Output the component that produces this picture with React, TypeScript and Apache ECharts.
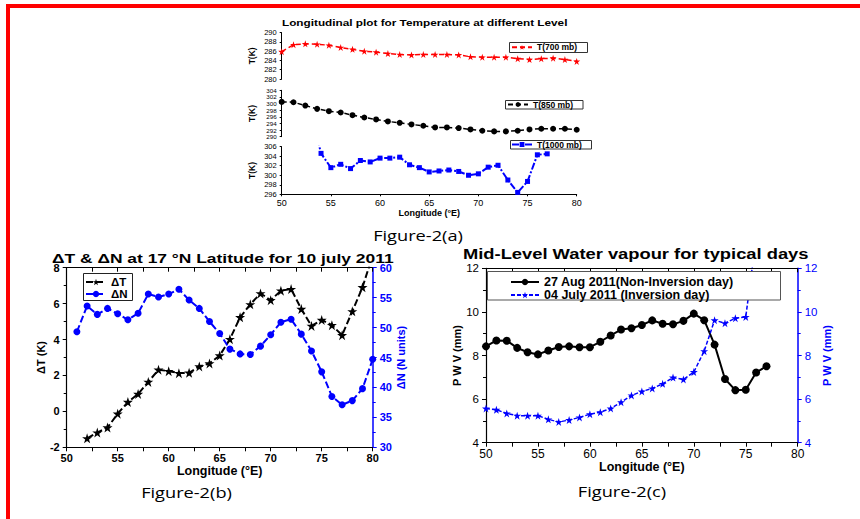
import React, { useEffect, useRef } from "react";
import * as echarts from "echarts";

// ---------- Figure 2(a) ----------
const lonA = [50, 51.2, 52.4, 53.6, 54.8, 56, 57.2, 58.4, 59.6, 60.8, 62, 63.2, 64.4, 65.6, 66.8, 68, 69.2, 70.4, 71.6, 72.8, 74, 75.2, 76.4, 77.6, 78.8, 80];
const t700 = [285.9, 287.4, 287.6, 287.5, 287.3, 286.8, 286.4, 286.0, 285.8, 285.5, 285.3, 285.2, 285.3, 285.3, 285.3, 285.2, 284.8, 284.7, 284.7, 284.7, 284.4, 284.2, 284.4, 284.5, 284.2, 283.8];
const t850 = [300.5, 300.4, 299.4, 298.4, 297.7, 297.3, 296.5, 295.8, 295.2, 294.6, 294.2, 293.7, 293.3, 292.8, 292.8, 292.6, 292.2, 291.8, 291.6, 291.6, 291.8, 292.2, 292.4, 292.4, 292.4, 292.1];
const lon1000 = [53, 54, 55, 56, 57, 58, 59, 60, 61, 62, 63, 64, 65, 66, 67, 68, 69, 70, 71, 72, 73, 74, 75, 76, 77];
const t1000 = [313, 304.6, 301.6, 302.3, 301.4, 303.1, 302.8, 303.6, 303.6, 303.8, 302.2, 301.6, 300.7, 300.9, 301.1, 300.8, 300.0, 300.3, 301.7, 302.1, 299.0, 296.4, 298.7, 304.3, 304.5];

// ---------- Figure 2(b) ----------
const lonDT = [52, 53, 54, 55, 56, 57, 58, 59, 60, 61, 62, 63, 64, 65, 66, 67, 68, 69, 70, 71, 72, 73, 74, 75, 76, 77, 78, 79, 80];
const dT = [-1.5, -1.18, -0.9, -0.13, 0.52, 0.97, 1.64, 2.32, 2.24, 2.13, 2.15, 2.5, 2.67, 3.11, 4.02, 5.24, 5.96, 6.57, 6.19, 6.72, 6.81, 5.7, 4.76, 5.09, 4.8, 4.24, 5.57, 6.91, 8.7];
const lonDN = [51, 52, 53, 54, 55, 56, 57, 58, 59, 60, 61, 62, 63, 64, 65, 66, 67, 68, 69, 70, 71, 72, 73, 74, 75, 76, 77, 78, 79, 80];
const dN = [49.3, 53.6, 52.2, 53.2, 52.3, 51.3, 52.4, 55.6, 55.1, 55.6, 56.4, 54.6, 53.2, 51.0, 49.0, 46.4, 45.6, 45.5, 46.9, 48.8, 50.9, 51.4, 48.9, 46.1, 42.6, 38.5, 37.1, 37.8, 39.8, 44.7];

// ---------- Figure 2(c) ----------
const lonAug = [50, 51, 52, 53, 54, 55, 56, 57, 58, 59, 60, 61, 62, 63, 64, 65, 66, 67, 68, 69, 70, 71, 72, 73, 74, 75, 76, 77];
const pwvAug = [8.42, 8.69, 8.68, 8.35, 8.15, 8.05, 8.23, 8.39, 8.42, 8.38, 8.38, 8.63, 8.92, 9.19, 9.25, 9.4, 9.61, 9.46, 9.43, 9.59, 9.92, 9.62, 8.5, 6.92, 6.41, 6.43, 7.22, 7.51];
const lonJul = [50, 51, 52, 53, 54, 55, 56, 57, 58, 59, 60, 61, 62, 63, 64, 65, 66, 67, 68, 69, 70, 71, 72, 73, 74, 75, 76];
const pwvJul = [5.57, 5.51, 5.34, 5.24, 5.24, 5.24, 5.07, 4.95, 5.04, 5.16, 5.31, 5.4, 5.57, 5.86, 6.17, 6.35, 6.49, 6.7, 6.99, 6.9, 7.24, 8.2, 9.62, 9.48, 9.71, 9.77, 13.4];

const nameA = ["T(700 mb)", "T(850 mb)", "T(1000 mb)"];
const nameB = ["\u0394T", "\u0394N"];
const nameC = ["27 Aug 2011(Non-Inversion day)", "04 July 2011 (Inversion day)"];

const RED = "#ff0000";
const BLUE = "#0000ff";
const BLACK = "#000000";
const FONT = "'Liberation Sans', Arial, sans-serif";
const CAPFONT = "'Open Sans', 'Noto Sans', sans-serif";
const STAR = "path://M100,0 L122.45,69.1 L195.1,69.1 L136.3,111.8 L158.8,180.9 L100,138.2 L41.2,180.9 L63.7,111.8 L4.9,69.1 L77.55,69.1 Z";

const pairs = (xs: number[], ys: number[], max: number) =>
  xs.map((x, i) => (ys[i] > max ? { value: [x, ys[i]], symbol: "none" } : [x, ys[i]]));

function yA(grid: number, min: number, max: number, fs: number) {
  return {
    gridIndex: grid, type: "value", min, max, interval: 2,
    axisLine: { show: true, onZero: false, lineStyle: { color: BLACK, width: 1 } },
    axisTick: { show: true, length: 2, lineStyle: { color: BLACK } },
    axisLabel: { fontSize: fs, lineHeight: fs, color: BLACK, margin: 5, fontFamily: FONT },
    splitLine: { show: false },
    name: "T(K)", nameLocation: "middle", nameRotate: 90, nameGap: 25,
    nameTextStyle: { fontSize: 8.5, fontWeight: "bold", color: BLACK, fontFamily: FONT },
  };
}

function topAxis(grid: number) {
  return {
    gridIndex: grid, type: "value", position: "top", min: 50, max: 80, interval: 2.5,
    axisLine: { show: true, onZero: false, lineStyle: { color: BLACK, width: 1.2 } },
    axisTick: { show: true, inside: true, length: 4, lineStyle: { color: BLACK } },
    axisLabel: { show: false }, splitLine: { show: false },
  };
}

function txt(text: string, x: number, y: number, size: number, scaleX: number, bold: boolean, family: string, align = "left") {
  return {
    type: "text", x, y, scaleX, z: 30,
    style: {
      text, fontSize: size, fontWeight: bold ? "bold" : "normal", fontFamily: family, fill: BLACK,
      align, textAlign: align, verticalAlign: "middle", textVerticalAlign: "middle",
    },
  };
}

function box(x: number, y: number, w: number, h: number, stroke: string) {
  return { type: "rect", z: 5, shape: { x, y, width: w, height: h }, style: { fill: "#ffffff", stroke, lineWidth: 1 } };
}

const option: any = {
  animation: false,
  backgroundColor: "#ffffff",
  textStyle: { fontFamily: FONT },
  grid: [
    { left: 281.7, top: 32.7, width: 295, height: 46.3, outerBoundsMode: "none" },
    { left: 281.7, top: 90.3, width: 295, height: 46.4, outerBoundsMode: "none" },
    { left: 281.7, top: 146.7, width: 295, height: 47.6, outerBoundsMode: "none" },
    { left: 66.7, top: 267.7, width: 306, height: 179.6, outerBoundsMode: "none" },
    { left: 486, top: 268.3, width: 311.7, height: 174.4, outerBoundsMode: "none" },
  ],
  xAxis: [
    { gridIndex: 0, type: "value", min: 50, max: 80, show: false },
    { gridIndex: 1, type: "value", min: 50, max: 80, show: false },
    {
      gridIndex: 2, type: "value", min: 50, max: 80, interval: 5,
      axisLine: { show: true, onZero: false, lineStyle: { color: BLACK, width: 1 } },
      axisTick: { show: true, length: 2, lineStyle: { color: BLACK } },
      axisLabel: { fontSize: 9, color: BLACK, margin: 4 },
      splitLine: { show: false },
      name: "Longitude (\u00B0E)", nameLocation: "middle", nameGap: 12,
      nameTextStyle: { fontSize: 9, fontWeight: "bold", color: BLACK },
    },
    {
      gridIndex: 3, type: "value", position: "bottom", min: 50, max: 80, interval: 5,
      axisLine: { show: true, onZero: false, lineStyle: { color: BLACK, width: 1.2 } },
      axisTick: { show: true, length: 4, lineStyle: { color: BLACK } },
      minorTick: { show: true, splitNumber: 2, length: 4, lineStyle: { color: BLACK } },
      axisLabel: { fontSize: 11, fontWeight: "bold", color: BLACK, margin: 5 },
      splitLine: { show: false },
      name: "Longitude (\u00B0E)", nameLocation: "middle", nameGap: 16,
      nameTextStyle: { fontSize: 12.5, fontWeight: "bold", color: BLACK },
    },
    topAxis(3),
    {
      gridIndex: 4, type: "value", position: "bottom", min: 50, max: 80, interval: 5,
      axisLine: { show: true, onZero: false, lineStyle: { color: BLACK, width: 1.2 } },
      axisTick: { show: true, length: 4, lineStyle: { color: BLACK } },
      minorTick: { show: true, splitNumber: 2, length: 4, lineStyle: { color: BLACK } },
      axisLabel: { fontSize: 12, color: BLACK, margin: 5 },
      splitLine: { show: false },
      name: "Longitude (\u00B0E)", nameLocation: "middle", nameGap: 18,
      nameTextStyle: { fontSize: 12.5, fontWeight: "bold", color: BLACK },
    },
    topAxis(4),
  ],
  yAxis: [
    yA(0, 280, 290, 7.5),
    yA(1, 290, 304, 6.2),
    yA(2, 296, 306, 7.5),
    {
      gridIndex: 3, type: "value", position: "left", min: -2, max: 8, interval: 2,
      axisLine: { show: true, onZero: false, lineStyle: { color: BLACK, width: 1.2 } },
      axisTick: { show: true, length: 4, lineStyle: { color: BLACK } },
      minorTick: { show: true, splitNumber: 2, length: 3, lineStyle: { color: BLACK } },
      axisLabel: { fontSize: 11, fontWeight: "bold", color: BLACK, margin: 7 },
      splitLine: { show: false },
      name: "\u0394T (K)", nameLocation: "middle", nameRotate: 90, nameGap: 19,
      nameTextStyle: { fontSize: 11, fontWeight: "bold", color: BLACK },
    },
    {
      gridIndex: 3, type: "value", position: "right", min: 30, max: 60, interval: 5,
      axisLine: { show: true, onZero: false, lineStyle: { color: BLUE, width: 1.5 } },
      axisTick: { show: true, length: 4, lineStyle: { color: BLUE } },
      minorTick: { show: true, splitNumber: 2, length: 3, lineStyle: { color: BLUE } },
      axisLabel: { fontSize: 11, fontWeight: "bold", color: BLUE, margin: 7 },
      splitLine: { show: false },
      name: "\u0394N (N units)", nameLocation: "middle", nameRotate: 90, nameGap: 22,
      nameTextStyle: { fontSize: 11, fontWeight: "bold", color: BLUE },
    },
    {
      gridIndex: 4, type: "value", position: "left", min: 4, max: 12, interval: 2,
      axisLine: { show: true, onZero: false, lineStyle: { color: BLACK, width: 1.2 } },
      axisTick: { show: true, length: 4, lineStyle: { color: BLACK } },
      minorTick: { show: true, splitNumber: 2, length: 3, lineStyle: { color: BLACK } },
      axisLabel: { fontSize: 11.5, color: BLACK, margin: 7 },
      splitLine: { show: false },
      name: "P W V (mm)", nameLocation: "middle", nameRotate: 90, nameGap: 23,
      nameTextStyle: { fontSize: 11, fontWeight: "bold", color: BLACK },
    },
    {
      gridIndex: 4, type: "value", position: "right", min: 4, max: 12, interval: 2,
      axisLine: { show: true, onZero: false, lineStyle: { color: BLUE, width: 1.5 } },
      axisTick: { show: true, length: 4, lineStyle: { color: BLUE } },
      minorTick: { show: true, splitNumber: 2, length: 3, lineStyle: { color: BLUE } },
      axisLabel: { fontSize: 11.5, color: BLUE, margin: 7 },
      splitLine: { show: false },
      name: "P W V (mm)", nameLocation: "middle", nameRotate: 90, nameGap: 23,
      nameTextStyle: { fontSize: 11, fontWeight: "bold", color: BLUE },
    },
  ],
  legend: [
    {
      data: [nameA[0]], left: 511, top: 42.8, padding: 0, itemWidth: 20, itemHeight: 6, z: 20, selectedMode: false,
      textStyle: { fontSize: 8.5, fontWeight: "bold", color: BLACK },
    },
    {
      data: [nameA[1]], left: 507, top: 100, padding: 0, itemWidth: 20, itemHeight: 6, z: 20, selectedMode: false,
      textStyle: { fontSize: 8.5, fontWeight: "bold", color: BLACK },
    },
    {
      data: [nameA[2]], left: 511, top: 140, padding: 0, itemWidth: 20, itemHeight: 6, z: 20, selectedMode: false,
      textStyle: { fontSize: 8.5, fontWeight: "bold", color: BLACK },
    },
    {
      data: nameB, orient: "vertical", left: 85, top: 276, padding: 0, itemGap: 0, itemWidth: 20, itemHeight: 8, z: 20, selectedMode: false,
      textStyle: { fontSize: 11.5, lineHeight: 11.5, fontWeight: "bold", color: BLACK },
    },
    {
      data: nameC, orient: "vertical", left: 510, top: 275.5, padding: 0, itemGap: 0, itemWidth: 28, itemHeight: 8, z: 20, selectedMode: false,
      textStyle: { fontSize: 12.5, lineHeight: 12, fontWeight: "bold", color: BLACK },
    },
  ],
  series: [
    {
      name: nameA[0], type: "line", xAxisIndex: 0, yAxisIndex: 0, data: pairs(lonA, t700, 290),
      symbol: STAR, symbolSize: 7, clip: true,
      lineStyle: { color: RED, width: 1.5, type: [5, 3] }, itemStyle: { color: RED },
    },
    {
      name: nameA[1], type: "line", xAxisIndex: 1, yAxisIndex: 1, data: pairs(lonA, t850, 304),
      symbol: "circle", symbolSize: 6, clip: true,
      lineStyle: { color: BLACK, width: 1.5, type: [5, 3] }, itemStyle: { color: BLACK },
    },
    {
      name: nameA[2], type: "line", xAxisIndex: 2, yAxisIndex: 2, data: pairs(lon1000, t1000, 306),
      symbol: "rect", symbolSize: 5, clip: true,
      lineStyle: { color: BLUE, width: 2, type: [7, 2, 2, 2] }, itemStyle: { color: BLUE },
    },
    {
      name: nameB[0], type: "line", xAxisIndex: 3, yAxisIndex: 3, data: pairs(lonDT, dT, 8),
      symbol: STAR, symbolSize: 10, clip: true,
      lineStyle: { color: BLACK, width: 2, type: [7, 3] }, itemStyle: { color: BLACK },
    },
    {
      name: nameB[1], type: "line", xAxisIndex: 3, yAxisIndex: 4, data: pairs(lonDN, dN, 60),
      symbol: "circle", symbolSize: 7, clip: true,
      lineStyle: { color: BLUE, width: 2, type: [7, 3] }, itemStyle: { color: BLUE },
    },
    {
      name: nameC[0], type: "line", xAxisIndex: 5, yAxisIndex: 5, data: pairs(lonAug, pwvAug, 12),
      symbol: "circle", symbolSize: 8, clip: true,
      lineStyle: { color: BLACK, width: 2 }, itemStyle: { color: BLACK },
    },
    {
      name: nameC[1], type: "line", xAxisIndex: 5, yAxisIndex: 6, data: pairs(lonJul, pwvJul, 12),
      symbol: STAR, symbolSize: 8, clip: true,
      lineStyle: { color: BLUE, width: 1.5, type: [4, 2] }, itemStyle: { color: BLUE },
    },
  ],
  graphic: [
    { type: "rect", z: 40, shape: { x: 6, y: 4, width: 854, height: 4 }, style: { fill: RED } },
    { type: "rect", z: 40, shape: { x: 6, y: 4, width: 4, height: 515 }, style: { fill: RED } },
    box(509.5, 42.5, 78, 10, "#333333"),
    box(505.5, 100.5, 77.5, 8.5, "#333333"),
    box(510.5, 140.5, 81, 8.5, "#333333"),
    box(83.5, 273.5, 49, 27, "#222222"),
    box(487.5, 271.5, 293, 28.5, "#555555"),
    txt("Longitudinal plot for Temperature at different Level", 282, 22.5, 9.5, 1.24, true, FONT),
    txt("\u0394T & \u0394N at 17 \u00B0N Latitude for 10 july 2011", 52, 258, 13.5, 1.29, true, FONT),
    txt("Mid-Level Water vapour for typical days", 463, 254, 14, 1.31, true, FONT),
    txt("Figure-2(a)", 418, 236, 14, 1.3, false, CAPFONT, "center"),
    txt("Figure-2(b)", 186.5, 492.5, 14, 1.3, false, CAPFONT, "center"),
    txt("Figure-2(c)", 622, 491.5, 14, 1.3, false, CAPFONT, "center"),
  ],
};

export default function App() {
  const ref = useRef<HTMLDivElement>(null);
  useEffect(() => {
    const chart = echarts.init(ref.current!, null, { renderer: "svg" });
    chart.setOption(option);
    return () => chart.dispose();
  }, []);
  return (
    <div
      ref={ref}
      style={{ position: "fixed", left: 0, top: 0, width: 860, height: 519, background: "#ffffff" }}
    />
  );
}
